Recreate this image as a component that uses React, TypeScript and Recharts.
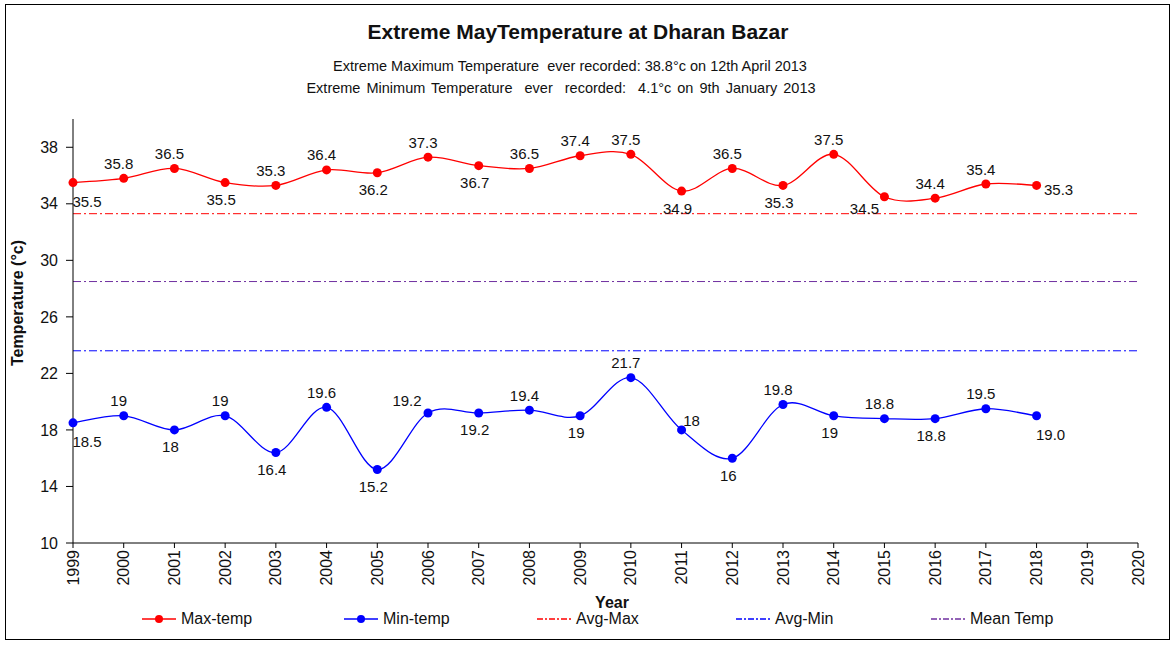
import { LabelList, Line, LineChart, ReferenceLine, XAxis, YAxis } from "recharts";

const years = [1999, 2000, 2001, 2002, 2003, 2004, 2005, 2006, 2007, 2008, 2009, 2010, 2011, 2012, 2013, 2014, 2015, 2016, 2017, 2018];
const maxTemp = [35.5, 35.8, 36.5, 35.5, 35.3, 36.4, 36.2, 37.3, 36.7, 36.5, 37.4, 37.5, 34.9, 36.5, 35.3, 37.5, 34.5, 34.4, 35.4, 35.3];
const minTemp = [18.5, 19, 18, 19, 16.4, 19.6, 15.2, 19.2, 19.2, 19.4, 19, 21.7, 18, 16, 19.8, 19, 18.8, 18.8, 19.5, 19.0];
const avgMax = 33.3;
const avgMin = 23.6;
const meanTemp = 28.5;
const xTicks = [1999, 2000, 2001, 2002, 2003, 2004, 2005, 2006, 2007, 2008, 2009, 2010, 2011, 2012, 2013, 2014, 2015, 2016, 2017, 2018, 2019, 2020];
const yTicks = [10, 14, 18, 22, 26, 30, 34, 38];

const data = years.map((y, i) => ({ year: y, max: maxTemp[i], min: minTemp[i] }));

// where each data label sits relative to its point (as in the excel chart)
const maxPlace = ["br", "t", "t", "b", "t", "t", "b", "t", "b", "t", "t", "t", "b", "t", "b", "t", "bl", "t", "t", "r"];
const minPlace = ["br", "t", "b", "t", "b", "t", "b", "tl", "b", "t", "b", "t", "tr", "b", "t", "b", "t", "b", "t", "br"];
const shift: Record<string, [number, number]> = {
  t: [-5, -15],
  b: [-4, 17],
  br: [14, 19],
  bl: [-20, 12],
  tl: [-21, -12],
  tr: [10, -9],
  r: [22, 4],
};

const FONT = "'Liberation Sans', Arial, sans-serif";

// excel-ish smoothed line (catmull-rom through the points)
const excelCurve = (ctx: any) => {
  let pts: [number, number][] = [];
  return {
    areaStart() {},
    areaEnd() {},
    lineStart() {
      pts = [];
    },
    point(x: number, y: number) {
      pts.push([+x, +y]);
    },
    lineEnd() {
      if (!pts.length) return;
      ctx.moveTo(pts[0][0], pts[0][1]);
      for (let i = 0; i < pts.length - 1; i++) {
        const p0 = pts[i - 1] || pts[i];
        const p1 = pts[i];
        const p2 = pts[i + 1];
        const p3 = pts[i + 2] || p2;
        ctx.bezierCurveTo(
          p1[0] + (p2[0] - p0[0]) / 6,
          p1[1] + (p2[1] - p0[1]) / 6,
          p2[0] - (p3[0] - p1[0]) / 6,
          p2[1] - (p3[1] - p1[1]) / 6,
          p2[0],
          p2[1]
        );
      }
    },
  };
};

const makeLabel = (places: string[], last: boolean) => (p: any) => {
  const [dx, dy] = shift[places[p.index]] || [0, -15];
  const v = Number(p.value);
  const txt = last && p.index === years.length - 1 ? v.toFixed(1) : String(v);
  return (
    <text
      x={p.x + dx}
      y={p.y + dy}
      textAnchor="middle"
      dominantBaseline="central"
      fontSize={15}
      fontFamily={FONT}
      fill="#111"
    >
      {txt}
    </text>
  );
};

const YearTick = ({ x, y, payload }: any) => (
  <text
    x={x}
    y={y}
    transform={`rotate(-90 ${x} ${y})`}
    textAnchor="end"
    dominantBaseline="central"
    fontSize={16}
    fontFamily={FONT}
    fill="#111"
  >
    {payload.value}
  </text>
);

const LegendItem = ({ color, dash, dot, text, left }: any) => (
  <div style={{ position: "absolute", left, top: 610, display: "flex", alignItems: "center" }}>
    <svg width={36} height={18}>
      <line x1={1} x2={35} y1={9} y2={9} stroke={color} strokeWidth={1.5} strokeDasharray={dash} />
      {dot && <circle cx={18} cy={9} r={4} fill={color} />}
    </svg>
    <span style={{ fontSize: 16, marginLeft: 4, color: "#111" }}>{text}</span>
  </div>
);

export default function App() {
  return (
    <div style={{ position: "absolute", left: 0, top: 0, width: 1175, height: 646, background: "#fff", fontFamily: FONT }}>
      <div style={{ position: "absolute", left: 5, top: 4, width: 1165, height: 636, border: "1px solid #000", boxSizing: "border-box" }} />
      <div style={{ position: "absolute", left: 0, width: 1156, top: 20, textAlign: "center", fontSize: 21, fontWeight: "bold", color: "#111" }}>
        Extreme MayTemperature at Dharan Bazar
      </div>
      <div style={{ position: "absolute", left: 0, width: 1140, top: 58, textAlign: "center", fontSize: 14.5, color: "#111", whiteSpace: "pre" }}>
        Extreme Maximum Temperature  ever recorded: 38.8°c on 12th April 2013
      </div>
      <div style={{ position: "absolute", left: 0, width: 1122, top: 80, textAlign: "center", fontSize: 14.5, color: "#111", whiteSpace: "pre", wordSpacing: 2 }}>
        Extreme Minimum Temperature  ever  recorded:  4.1°c on 9th January 2013
      </div>
      <LineChart
        width={1175}
        height={646}
        data={data}
        margin={{ top: 119, right: 37, bottom: 53, left: 13 }}
        style={{ position: "absolute", left: 0, top: 0 }}
      >
        <XAxis
          dataKey="year"
          type="number"
          domain={[1999, 2020]}
          ticks={xTicks}
          interval={0}
          height={50}
          tickSize={5}
          tickMargin={2}
          tick={<YearTick />}
          stroke="#000"
        />
        <YAxis
          type="number"
          domain={[10, 40]}
          ticks={yTicks}
          width={60}
          tickSize={7}
          tickMargin={8}
          stroke="#000"
          tick={{ fill: "#111", fontSize: 16, fontFamily: FONT }}
        />
        <ReferenceLine y={avgMax} stroke="#ff0000" strokeWidth={1} strokeDasharray="8 3 2 3" />
        <ReferenceLine y={meanTemp} stroke="#7030a0" strokeWidth={1} strokeDasharray="8 3 2 3" />
        <ReferenceLine y={avgMin} stroke="#0000ff" strokeWidth={1} strokeDasharray="8 3 2 3" />
        <Line
          dataKey="max"
          type={excelCurve as any}
          stroke="#ff0000"
          strokeWidth={1.3}
          dot={{ r: 4.5, fill: "#ff0000", stroke: "#ff0000", strokeWidth: 0 }}
          activeDot={false}
          isAnimationActive={false}
        >
          <LabelList dataKey="max" content={makeLabel(maxPlace, false)} />
        </Line>
        <Line
          dataKey="min"
          type={excelCurve as any}
          stroke="#0000ff"
          strokeWidth={1.3}
          dot={{ r: 4.5, fill: "#0000ff", stroke: "#0000ff", strokeWidth: 0 }}
          activeDot={false}
          isAnimationActive={false}
        >
          <LabelList dataKey="min" content={makeLabel(minPlace, true)} />
        </Line>
      </LineChart>
      <div
        style={{
          position: "absolute",
          left: 8,
          top: 303,
          transform: "translate(-50%, -50%) rotate(-90deg)",
          transformOrigin: "center",
          marginLeft: 10,
          fontSize: 16,
          fontWeight: "bold",
          whiteSpace: "nowrap",
          color: "#111",
        }}
      >
        Temperature (°c)
      </div>
      <div style={{ position: "absolute", left: 580, width: 64, top: 594, textAlign: "center", fontSize: 16, fontWeight: "bold", color: "#111" }}>
        Year
      </div>
      <LegendItem left={141} color="#ff0000" dot text="Max-temp" />
      <LegendItem left={343} color="#0000ff" dot text="Min-temp" />
      <LegendItem left={536} color="#ff0000" dash="6 2 2 2" text="Avg-Max" />
      <LegendItem left={735} color="#0000ff" dash="6 2 2 2" text="Avg-Min" />
      <LegendItem left={930} color="#7030a0" dash="6 2 2 2" text="Mean Temp" />
    </div>
  );
}
